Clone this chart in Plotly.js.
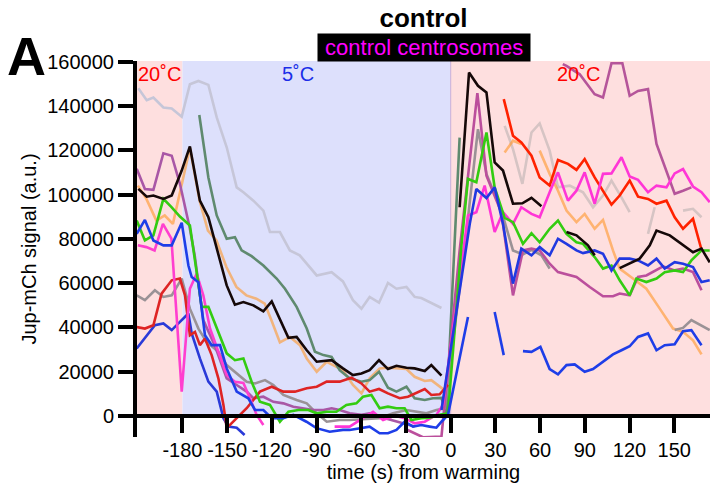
<!DOCTYPE html>
<html>
<head>
<meta charset="utf-8">
<script src="https://cdn.plot.ly/plotly-3.0.1.min.js"></script>
<style>html,body{margin:0;padding:0;background:#fff}#chart{width:710px;height:486px}</style>
</head>
<body>
<div id="chart"></div>
<script>
// ---------- data (time in s from warming, Jup-mCh signal in a.u.) ----------
const xTickVals = [-180,-150,-120,-90,-60,-30,0,30,60,90,120,150];
const xTickText = ['-180','-150','-120','-90','-60','-30','0','30','60','90','120','150'];
const yTickVals = [0,20000,40000,60000,80000,100000,120000,140000,160000];
const yTickText = ['0','20000','40000','60000','80000','100000','120000','140000','160000'];

const tLav = [-209.6,-204,-199.5,-192.8,-187.2,-180.5,-175,-169.3,-162.6,-157,-150.3,-143.6,-139.1,-132.4,-125.7,-121.3,-114.6,-107.9,-101.3,-89.9,-79.9,-72.3,-65.6,-59.9,-54.4,-48.1,-42.1,-36.4,-29.7,-24.2,-19.7,-14.1,-6.2];
const vLav = [148100,142700,143900,139400,138900,135200,149900,151400,149600,134900,121400,103300,101100,97300,92800,83100,83100,74800,72600,63500,65000,60800,52300,48500,53800,51200,60100,57500,58300,53800,53300,51500,48800];

const tLight = [36.2,41.8,48.1,54.2,59.7,66.4,72,79.9,88.8,95.5,102.2,107.9,114.6,120.1,null,132.4,136.9,null,155.9,162.6,168.3];
const vLight = [131100,120600,104900,128100,132200,119900,103300,104100,101100,94300,99600,106400,98800,92100,null,82300,94300,null,92800,93600,89800];

const tOrange = [-209.9,-204.2,-197.5,-191.9,-186.4,-175,-168.5,-162.9,-157.2,-150.5,-143.8,-137.1,-130.4,-124.8,-120.3,-114.6,-107.9,-101.1,-96.6,-89.9,-83.2,-72.3,-65.6,-59.9,-54.4,-47.7,-42.1,-36.4,-29.7,-24.2,-17.4,-13,-6.2,-2.9,null,36.2,41.8,47.4,null,59.7,66.4,72,77.7,84.4,89.9,96.6,102.2,108.9,113.4,122.3,131.3,140.3,149.2,155.9,162.6,168.3];
const vOrange = [104100,98100,88300,90600,86800,121100,97300,83800,79300,67300,58300,54500,53000,50800,43300,33200,35700,32000,26000,20000,24500,20700,14000,10200,17000,21500,21800,21500,21200,17700,15800,16200,12500,11000,null,119100,124400,122900,null,119900,109400,101800,92800,87600,91300,84600,88600,74800,66600,62100,57500,48500,39500,38000,34200,27800];

const tDkGreen = [-168.7,-166,-162.6,-157,-150.3,-144.8,-140.3,-133.6,-125.7,-116.8,-111.2,-103.4,-96.6,-91.1,-85.4,-79.9,-74.5,-67.8,-59.9,-54.4,-48.1,-42.1,-36.4,-29.7,-24.2,-17.4,-11.9,-6.2,-2.9,6];
const vDkGreen = [136000,122900,107800,90600,80100,80800,74800,72200,68000,62100,57500,49300,39500,29000,27500,26700,20700,17000,15500,16200,20000,12800,11000,13200,8000,7200,8000,8200,500,125800];

const tGray = [-210.7,-205.2,-198.5,-192.8,-187.2,-180.5,-175,-169.3,-163.8,-155.9,-150.3,-143.6,-136.9,-131.3,-124.6,-119,-112.3,-103.4,-96.6,-89.9,-83.2,-74.5,-67.8,-47.7,-38.7,-29.7,-23,-16.3,-9.6,-4,9.4,18.3,24,34,41.8,48.5,54.2,60.9,66.4,null,150.3,155.9,161.5,168.3,173.8];
const vGray = [54500,52300,56800,53800,54500,62100,48500,39500,33500,29000,23000,19200,15500,14700,16200,14000,9500,7200,5700,1200,-2600,-1800,-1800,-1000,1200,2700,1900,1200,2700,3500,76300,129600,109400,92800,74800,73000,75100,72600,66600,null,38800,39800,43300,41000,38800];

const tMagLeft = [-210.7,-205.2,-199.5,-192.8,-187.2,-181.7,-177.2,-175.2,-171.8,-166,-158.4,-150.3,-143.6,-136.9,-132.4,-125.7,-119,-112.3,-105.6,-98.9,-92.1,-85.4,-79.9,-74.5,-67.8,-59.9,-54.4,-47.7,-36.4,-29.7,-24.2];
const vMagLeft = [111700,102600,102200,118700,117600,104900,91300,85300,72600,43300,32000,17000,14000,11000,8000,8700,6400,5700,4200,3500,2700,2700,3500,2700,1200,500,1200,-300,-2600,-3700,-4800];

const tPurpleTop = [75.2,77.7,86.6,96.6,102.2,107.9,115.2,120.1,125.7,132.4,138.1,144.8,150.3,155.9,161.5];
const vPurpleTop = [159000,158200,154400,145400,143900,159400,159400,144700,146900,147700,122900,110900,100400,101800,103300];

const tMagRight = [-30,-18.6,-6.2,6,17.9,24,34,41.8,48.5,54.2,59.7,66.4,72,84.4,93.3,102.2,108.9,113.4,120.1,125.7,131.3,142.5,150.3,155.9,162.6,168.3];
const vMagRight = [-6000,-9600,-9300,74800,145900,108600,91900,54500,74800,75600,74800,68800,65000,62800,58300,54100,54100,55300,54500,62800,63500,67600,65800,66600,65000,56800];

const tBlueLow = [-210.7,-204,-198.5,-192.8,-187.2,-181.7,-176,-173.8,-168.3,-162.6,-157,-152.5,-149.2,-143.6,-138.3];
const vBlueLow = [30500,36500,41000,41800,38800,42500,46300,37300,26000,15500,11000,-1000,-4800,-5300,-8600];

const tRed = [-210.7,-205.2,-199.5,-194,-187.2,-181.7,-178.3,-175,-171.6,-168.3,-164.9,-160.4,-155.9,-152.5,-150.3,-144.8,-136.9,-128,-120.1,-112.3,-104.5,-96.6,-89.9,-83.2,-74.5,-66.6,-59.9,-54.4,-48.1,-42.1,-34.2,-28.7,-17.4,-13,-7.4,-1.8];
const vRed = [40200,39500,41000,55300,61300,62100,54500,36500,38000,32000,35000,27500,17000,5000,-5500,-1800,3500,11000,13200,11000,11000,12500,13200,15500,15500,17300,14700,11000,12200,10200,8000,8700,12200,9500,9800,14000];

const tBrightRed = [35.6,41.8,47.4,54.2,59.7,66.4,72,78.7,84.4,89.9,96.6,102.2,107.9,113.4,120.1,125.7,132.4,138.1,144.8,150.3,155.9,162.6,168.3];
const vBrightRed = [143200,126600,123600,117600,107800,104100,115700,113900,111200,116100,107800,101800,95500,99600,106400,99100,98100,95900,97300,89800,84600,89100,75100];

const tPinkLeft = [-209.9,-204.2,-198.7,-193.1,-187.4,-180.5,-175,-170.5,-166,-161.5,-155.9,-150.3,-144.8,-139.1,-134.7,-130.2,-125.7];
const vPinkLeft = [77100,76300,74800,86800,80100,11000,57500,64300,54500,39500,29000,18500,15500,14900,8000,500,-4100];

const tPink = [-77.9,-67.8,-58.9,-52.1,-45.4,-37.6,-30.9,-24.2,-17.4,-9.6,-5.2,11.6,17.2,22.8,29.5,35.1,41.8,47.4,54.2,59.7,66.4,72,78.7,84.4,89.9,96.6,102.2,107.9,114.6,120.1,125.7,132.4,138.1,144.8,150.3,155.9,162.6,168.3,173.8];
const vPink = [-4800,-4800,-1000,1900,-1800,100,-1000,-3300,-2600,500,5000,90600,92100,104100,83100,92100,86800,94300,91300,89800,101100,110100,97300,101800,110100,95900,109400,109600,116900,108200,106700,101100,104100,103300,109600,111600,103700,101100,96600];

const tGreen = [-210.7,-205.2,-199.5,-192.8,-187.2,-181.7,-175,-172.7,-169.3,-167.1,-162.6,-157,-150.3,-144.8,-139.1,-133.6,-128,-121.3,-114.6,-108.9,-102.2,-95.5,-89.9,-83.2,-76.7,-70,-63.3,-58.9,-53.2,-47.7,-42.1,-36.4,-30.9,-26.4,-19.7,-14.1,-7.4,-1.8,7.2,11.6,17.2,24,29.5,36.2,41.8,48.5,54.2,59.7,66.4,72,77.7,84.4,88.8,96.6,102.2,107.9,113.4,120.1,124.6,131.3,138.1,143.6,150.3,155.9,161.5,168.3,173.8];
const vGreen = [88300,79300,81600,98100,94300,90100,86100,74800,60500,49300,49300,39500,28300,25200,26000,15500,6400,5000,-2600,1900,2700,2700,1200,1900,1900,5000,5700,8700,9500,3500,4200,3500,3500,-1800,-1000,-800,500,1200,77100,107100,105600,128100,103300,89500,87600,77800,82600,78500,84600,88300,82300,78500,77800,71800,66600,68000,61300,54500,62100,60500,62100,65000,65800,65000,70300,74800,74800];

const tBlue = [-210.7,-205.2,-199.5,-192.8,-187.2,-180.5,-176,-173.8,-169.3,-164.9,-160.4,-154.8,-150.3,-143.6,-135.8,-131.3,-125.7,-120.1,-112.3,-105.6,-96.8,-90.1,-81.2,-72.3,-67.8,-61.1,-54.4,-47.7,-42.1,-36.4,-30.9,-25.3,-19.7,-14.1,-9.6,-6.2,-1.8,11.6,null,29.5,35.6,null,48.5,54.2,60.2,66.4,72,77.7,83.2,89.9,95.5,102.2,108.9,114.6,120.1,125.7,132.4,138.1,143.6,150.3,155.9,161.5,168.3];
const vBlue = [82300,88600,79300,77100,77100,87300,68000,62800,60500,36500,32000,32000,21500,11000,8000,2700,2700,-1000,-1000,500,-2600,-5500,-7100,-6300,-6300,-5500,-4800,-7800,-7800,-6300,-2600,-4800,-4100,-4800,-5300,-2600,500,44700,null,47000,27500,null,29300,29000,31200,21200,18800,23000,23300,20000,21200,24500,27800,29700,31500,35700,37300,29700,32000,32400,38300,38800,32000];

const tBlueRight = [-6.2,12.8,17.2,24,29.5,35.1,41.8,47.4,54.2,59.7,66.4,72,77.7,84.4,88.8,96.6,102.2,107.9,113.4,120.1,125.7,132.4,138.1,143.6,150.3,155.9,162.6,168.3,173.8];
const vBlueRight = [2700,86800,102600,98500,103300,86800,59800,75600,72600,76300,72600,80100,77800,74800,73600,74800,73300,65800,71100,71100,70300,68000,71100,66600,69500,68800,67300,60500,61300];

const tBlack = [-209.6,-204,-199.5,-192.8,-187.2,-180.5,-175,-168.3,-162.6,-157,-150.3,-144.8,-139.1,-132.4,-125.7,-120.1,-114.6,-108.9,-103.4,-96.6,-89.9,-79.9,-72.3,-65.6,-59.9,-54.4,-48.1,-42.1,-36.4,-29.7,-24.2,-17.4,-13,-6.2,null,6,12.3,18.3,24,29.5,35.1,41.8,48.1,54.2,60.9,null,77.7,84.4,92.1,96.6,null,113.4,122.3,126.8,133.6,138.1,147,155.9,162.6,168.3,173.8];
const vBlack = [102600,99100,99600,98100,99600,110900,121800,97300,89800,76300,59000,50300,51500,50000,47300,51800,43300,35300,35700,29700,24500,25200,21500,18500,19200,20700,25200,21200,22700,21800,21500,20300,23000,18200,null,94300,155200,149200,146200,114600,110900,95900,96100,98600,94800,null,83100,81600,77100,72600,null,66800,69900,71100,77100,83800,81600,77100,74000,75600,69400];

// ---------- chart ----------
const FONT = 'Liberation Sans, Arial, Helvetica, sans-serif';
function line(t, v, color, w) {
  return {x: t, y: v, type: 'scatter', mode: 'lines', connectgaps: false,
          line: {color: color, width: w || 2.6}, hoverinfo: 'skip', showlegend: false};
}
const data = [
  line(tLav, vLav, '#c6c6d8'),
  line(tLight, vLight, '#d6c4c4'),
  line(tOrange, vOrange, 'rgba(255,150,40,0.6)'),
  line(tDkGreen, vDkGreen, '#5f8a6f'),
  line(tGray, vGray, '#9a9296'),
  line(tMagLeft, vMagLeft, '#a957a6'),
  line(tPurpleTop, vPurpleTop, '#b5559a'),
  line(tMagRight, vMagRight, '#bb4f9c'),
  line(tBlueLow, vBlueLow, '#2a3ad8'),
  line(tRed, vRed, '#de2424'),
  line(tBrightRed, vBrightRed, '#ff2200'),
  line(tPinkLeft, vPinkLeft, '#ff3fcf'),
  line(tPink, vPink, '#ff36d6'),
  line(tGreen, vGreen, '#33cc11'),
  line(tBlue, vBlue, '#1e3ee8'),
  line(tBlueRight, vBlueRight, '#2138e0'),
  line(tBlack, vBlack, '#150808')
];

const layout = {
  width: 710, height: 486,
  margin: {l: 137, r: 0, t: 61, b: 49},
  paper_bgcolor: '#ffffff', plot_bgcolor: '#ffffff',
  font: {family: FONT, color: '#000', size: 20},
  title: {text: '<b>control</b>', font: {family: FONT, size: 26, color: '#000'},
          x: 0.5, xref: 'paper', xanchor: 'center', y: 0.963, yref: 'container', yanchor: 'middle'},
  xaxis: {
    range: [-210.5, 174], anchor: 'free', position: 9500 / 169900,
    showgrid: false, zeroline: false, showline: true, linecolor: '#000', linewidth: 4,
    ticks: 'outside', ticklen: 15, tickwidth: 4, tickcolor: '#000',
    tickmode: 'array', tickvals: xTickVals, ticktext: xTickText,
    tickfont: {family: FONT, size: 20, color: '#000'},
    title: {text: 'time (s) from warming', font: {family: FONT, size: 20, color: '#000'}, standoff: 0}
  },
  yaxis: {
    range: [-9500, 160400],
    showgrid: false, zeroline: false, showline: true, linecolor: '#000', linewidth: 4,
    ticks: 'outside', ticklen: 15, tickwidth: 4, tickcolor: '#000',
    tickmode: 'array', tickvals: yTickVals, ticktext: yTickText,
    tickfont: {family: FONT, size: 20, color: '#000'},
    title: {text: 'Jup-mCh signal (a.u.)', font: {family: FONT, size: 20, color: '#000'}, standoff: 6}
  },
  shapes: [
    {type: 'rect', xref: 'paper', yref: 'y', x0: 0, x1: 0, y0: 0, y1: 160400, layer: 'below', line: {width: 0}, fillcolor: '#fedfdf'},
    {type: 'rect', xref: 'x', yref: 'y', x0: -210.5, x1: -180, y0: 0, y1: 160400, layer: 'below', line: {width: 0}, fillcolor: '#fedfdf'},
    {type: 'rect', xref: 'x', yref: 'y', x0: -180, x1: 0, y0: 0, y1: 160400, layer: 'below', line: {width: 0}, fillcolor: '#dde0fc'},
    {type: 'rect', xref: 'x', yref: 'y', x0: 0, x1: 174, y0: 0, y1: 160400, layer: 'below', line: {width: 0}, fillcolor: '#fedfdf'},
    {type: 'line', xref: 'x', yref: 'y', x0: 0, x1: 0, y0: 0, y1: 160400, layer: 'below', line: {width: 1, color: 'rgba(190,160,210,0.8)'}}
  ],
  annotations: [
    {text: '20˚C', xref: 'x', yref: 'y', x: -195.5, y: 154600, showarrow: false, font: {family: FONT, size: 20, color: '#ff0000'}},
    {text: '5˚C', xref: 'x', yref: 'y', x: -102.7, y: 154600, showarrow: false, font: {family: FONT, size: 20, color: '#1a2ee8'}},
    {text: '20˚C', xref: 'x', yref: 'y', x: 85.9, y: 154600, showarrow: false, font: {family: FONT, size: 20, color: '#ff0000'}},
    {text: '\u00a0control centrosomes\u00a0', xref: 'paper', yref: 'paper', x: 0.5, y: (437 - 47.5) / 376,
     xanchor: 'center', yanchor: 'middle', showarrow: false, bgcolor: '#000', borderpad: 1,
     font: {family: FONT, size: 22, color: '#ff00ff'}},
    {text: '<b>A</b>', xref: 'paper', yref: 'paper', x: (26 - 137) / 573, y: (437 - 56) / 376,
     xanchor: 'center', yanchor: 'middle', showarrow: false, font: {family: FONT, size: 54, color: '#000'}}
  ]
};

Plotly.newPlot('chart', data, layout, {displayModeBar: false, staticPlot: true});
</script>
</body>
</html>
